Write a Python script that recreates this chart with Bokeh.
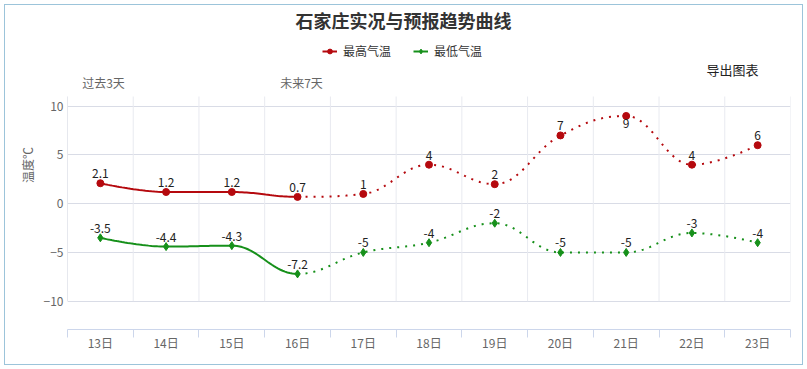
import numpy as np
from bokeh.plotting import figure
from bokeh.models import (Range1d, FixedTicker, Label, Legend, LegendItem, ColumnDataSource,
                          InlineStyleSheet)
from bokeh.embed import file_html
from bokeh.resources import INLINE

# ---------------- data ----------------
days = ["13日", "14日", "15日", "16日", "17日", "18日", "19日", "20日", "21日", "22日", "23日"]
high = [2.1, 1.2, 1.2, 0.7, 1, 4, 2, 7, 9, 4, 6]
low = [-3.5, -4.4, -4.3, -7.2, -5, -4, -2, -5, -5, -3, -4]
y_ticks = [-10, -5, 0, 5, 10]
n_past = 4  # 13日..16日 observed (solid), rest forecast (dotted)

title_text = "石家庄实况与预报趋势曲线"
series_names = ["最高气温", "最低气温"]
past_text = "过去3天"
future_text = "未来7天"
export_text = "导出图表"
ylabel_text = "温度℃"

# ---------------- style / layout ----------------
RED = "#b5090e"
GREEN = "#16901a"
FONT = "Noto Sans CJK SC"
W, H = 807, 369
# frame in page px
FL, FR, FT, FB = 67, 790, 0, 329
PLOT_TOP_PX = 96          # top of the gridded plot area
ZERO_PX = 203.2           # page y of value 0
PYU = 9.75                # px per degree
Y_TOP = (ZERO_PX - FT) / PYU
Y_BOT = (ZERO_PX - FB) / PYU
GRID_TOP = (ZERO_PX - PLOT_TOP_PX) / PYU

xs = [i + 0.5 for i in range(len(days))]


def spline(xv, yv, samples=30):
    """Highcharts-style spline through the points (smoothing 1.5)."""
    n = len(xv)
    sm, den = 1.5, 2.5
    lc = [None] * n
    rc = [None] * n
    for i in range(n):
        x, y = xv[i], yv[i]
        if 0 < i < n - 1:
            lx, ly, nx, ny = xv[i - 1], yv[i - 1], xv[i + 1], yv[i + 1]
            lcx = (sm * x + lx) / den
            lcy = (sm * y + ly) / den
            rcx = (sm * x + nx) / den
            rcy = (sm * y + ny) / den
            corr = 0
            if rcx != lcx:
                corr = ((rcy - lcy) * (rcx - x)) / (rcx - lcx) + y - rcy
            lcy += corr
            rcy += corr
            if lcy > ly and lcy > y:
                lcy = max(ly, y); rcy = 2 * y - lcy
            elif lcy < ly and lcy < y:
                lcy = min(ly, y); rcy = 2 * y - lcy
            if rcy > ny and rcy > y:
                rcy = max(ny, y); lcy = 2 * y - rcy
            elif rcy < ny and rcy < y:
                rcy = min(ny, y); lcy = 2 * y - rcy
            lc[i] = (lcx, lcy)
            rc[i] = (rcx, rcy)
    segs = []
    t = np.linspace(0, 1, samples)
    for i in range(n - 1):
        p0 = np.array([xv[i], yv[i]])
        p1 = np.array(rc[i] if rc[i] else (xv[i], yv[i]))
        p2 = np.array(lc[i + 1] if lc[i + 1] else (xv[i + 1], yv[i + 1]))
        p3 = np.array([xv[i + 1], yv[i + 1]])
        pts = ((1 - t) ** 3)[:, None] * p0 + (3 * (1 - t) ** 2 * t)[:, None] * p1 \
            + (3 * (1 - t) * t ** 2)[:, None] * p2 + (t ** 3)[:, None] * p3
        segs.append(pts)
    return segs


def join(segs):
    pts = np.vstack(segs)
    return pts[:, 0], pts[:, 1]


p = figure(width=W, height=H, output_backend="svg", toolbar_location=None,
           x_range=Range1d(0, len(days)), y_range=Range1d(Y_BOT, Y_TOP),
           min_border_left=FL, min_border_right=W - FR,
           min_border_top=FT, min_border_bottom=H - FB)
p.outline_line_color = None
p.background_fill_color = "white"
p.border_fill_color = "white"
p.stylesheets = [InlineStyleSheet(css="""
:host { position: relative; }
:host::after { content: ""; position: absolute; left: 4px; top: 4px; right: 4px; bottom: 4px;
  border: 1px solid #9cc4da; pointer-events: none; z-index: 100; }
""")]

# grid
p.xgrid.visible = False
p.ygrid.ticker = FixedTicker(ticks=y_ticks)
p.ygrid.grid_line_color = "#d9dce6"
p.ygrid.grid_line_width = 1
bounds = list(range(len(days) + 1))
p.segment(x0=bounds, y0=[min(y_ticks)] * len(bounds), x1=bounds, y1=[GRID_TOP] * len(bounds),
          line_color="#e8eaf0", line_width=1)
p.segment(x0=[0], y0=[min(y_ticks)], x1=[0], y1=[GRID_TOP], line_color="#d9dce6", line_width=1)

# x axis
xa = p.xaxis[0]
xa.ticker = FixedTicker(ticks=xs, minor_ticks=bounds)
xa.major_label_overrides = {x: d for x, d in zip(xs, days)}
xa.axis_line_color = "#ccd6eb"
xa.major_tick_line_color = None
xa.major_tick_out = 0
xa.major_tick_in = 0
xa.minor_tick_line_color = "#ccd6eb"
xa.minor_tick_out = 8
xa.minor_tick_in = 0
xa.major_label_standoff = -4
xa.major_label_text_font = FONT
xa.major_label_text_font_size = "12px"
xa.major_label_text_color = "#666666"

# y axis
ya = p.yaxis[0]
ya.ticker = FixedTicker(ticks=y_ticks)
ya.axis_line_color = None
ya.major_tick_line_color = None
ya.minor_tick_line_color = None
ya.major_tick_out = 0
ya.major_tick_in = 0
ya.major_label_standoff = 4
ya.major_label_text_font = FONT
ya.major_label_text_font_size = "12px"
ya.major_label_text_color = "#666666"
ya.axis_label = ylabel_text
ya.axis_label_text_font = FONT
ya.axis_label_text_font_size = "12px"
ya.axis_label_text_font_style = "normal"
ya.axis_label_text_color = "#666666"
ya.axis_label_standoff = 5

# series
legend_items = []
for name, vals, color, marker, msize in [
    (series_names[0], high, RED, "circle", 7),
    (series_names[1], low, GREEN, "diamond", 8),
]:
    segs = spline(xs, vals)
    sx, sy = join(segs[:n_past - 1])
    dx, dy = join(segs[n_past - 1:])
    r_solid = p.line(sx, sy, line_color=color, line_width=2)
    p.line(dx, dy, line_color=color, line_width=2, line_dash="2 6")
    r_pts = p.scatter(xs, vals, marker=marker, size=msize, fill_color=color, line_color=color)
    legend_items.append(LegendItem(label=name, renderers=[r_solid, r_pts]))

    labels = [f"{v:g}" for v in vals]
    above = [GRID_TOP - v >= 2 for v in vals]
    src_a = ColumnDataSource(dict(x=[x for x, a in zip(xs, above) if a],
                                  y=[v for v, a in zip(vals, above) if a],
                                  t=[l for l, a in zip(labels, above) if a]))
    src_b = ColumnDataSource(dict(x=[x for x, a in zip(xs, above) if not a],
                                  y=[v for v, a in zip(vals, above) if not a],
                                  t=[l for l, a in zip(labels, above) if not a]))
    p.text(x="x", y="y", text="t", source=src_a, text_align="center", text_baseline="bottom",
           y_offset=-5, text_font_size="12px", text_color="#222222", text_font={"value": FONT})
    p.text(x="x", y="y", text="t", source=src_b, text_align="center", text_baseline="top",
           y_offset=3, text_font_size="12px", text_color="#222222", text_font={"value": FONT})

legend = Legend(items=legend_items, orientation="horizontal", location=(255, 270),
                glyph_width=15, glyph_height=12, label_standoff=6, spacing=22,
                padding=0, margin=0, border_line_color=None, background_fill_alpha=0,
                label_text_font=FONT, label_text_font_size="12px", label_text_color="#333333")
p.add_layout(legend, "center")

# page px -> data helpers (for annotation placement)
PXU = (FR - FL) / len(days)


def dx_(px):
    return (px - FL) / PXU


def dy_(py):
    return (ZERO_PX - py) / PYU


def add_label(text, px, py, size, color, bold=False, align="center"):
    p.add_layout(Label(x=dx_(px), y=dy_(py), text=text, text_align=align, text_baseline="middle",
                       text_font=FONT, text_font_size=size, text_color=color,
                       text_font_style="bold" if bold else "normal"))


add_label(title_text, 403, 19, "18px", "#333333", bold=True)
add_label(export_text, 732, 69, "13px", "#222222")
add_label(past_text, 103, 82, "12px", "#666666")
add_label(future_text, 301, 82, "12px", "#666666")

open("out.html", "w").write(file_html(p, INLINE))
